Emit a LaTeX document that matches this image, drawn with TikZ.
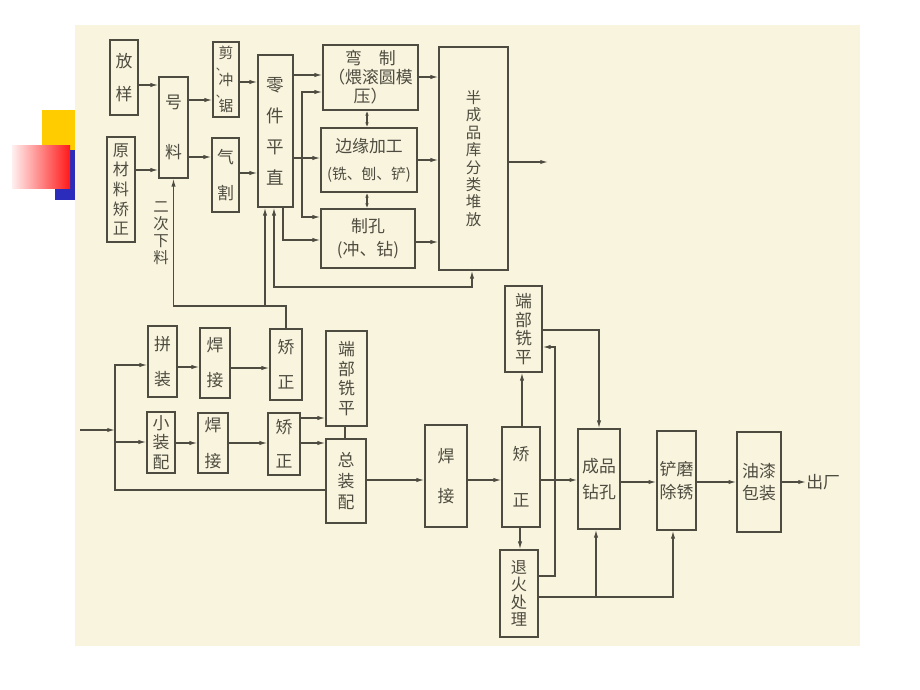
\documentclass[tikz,border=0pt]{standalone}
\usepackage{fontspec}
\newfontfamily\cjk{Noto Sans CJK SC}
\usetikzlibrary{arrows.meta}

\definecolor{page}{RGB}{248,244,222}
\definecolor{ink}{RGB}{78,76,64}
\definecolor{mkyellow}{RGB}{255,204,0}
\definecolor{mkblue}{RGB}{44,44,188}

%% small comma on its own row, at the left
\newcommand\dunhao{{\fontsize{8}{10}\selectfont\makebox[10.5pt][l]{\hspace{-2pt}、}}}

\tikzset{
  blk/.style 2 args={draw=ink, line width=1.1pt, inner sep=0pt, align=center, text=ink,
    minimum width=#1*0.025cm, minimum height=#2*0.025cm},
  lsp/.style 2 args={font=\cjk\fontsize{#1}{#2}\selectfont},
  ln/.style={draw=ink, line width=0.8pt},
  arr/.style={ln, -{Latex[length=5.5pt,width=3pt]}},
  both/.style={ln, {Latex[length=5.5pt,width=3pt]}-{Latex[length=5.5pt,width=3pt]}},
  dbl/.style={ln, {Latex[length=3.5pt,width=2.6pt]}-{Latex[length=3.5pt,width=2.6pt]}},
}

\begin{document}
\begin{tikzpicture}[x=0.025cm, y=-0.025cm]

%% page and slide marks
\fill[white] (0,0) rectangle (920,690);
\fill[mkyellow] (42,110) rectangle (75,153);
\fill[mkblue] (55,150) rectangle (75,200);
\shade[left color=red!6, right color=red!90!white] (12,145) rectangle (70,188);
\fill[page] (75,25) rectangle (860,646);

%% upper boxes
\node[blk={28}{75}, lsp={12}{23.5}] (fang) at (124,77.5) {放\\样};
\node[blk={28}{105}, lsp={11.5}{14}] (yuan) at (121,189.5) {原\\材\\料\\矫\\正};
\node[blk={29}{101}, lsp={12}{35.5}] (hao) at (173.5,127.5) {号\\料};
\node[blk={26}{75}, lsp={10.5}{10}] (jian) at (226,79.5) {剪\\[-1.5pt]\dunhao\\[0.5pt]冲\\[-1.5pt]\dunhao\\[0.5pt]锯};
\node[blk={27}{74}, lsp={12}{25}] (qi) at (225.5,175) {气\\割};
\node[blk={35}{152}, lsp={12.5}{22}] (ling) at (275.5,131) {零\\件\\平\\直};
\node[blk={95}{65}, lsp={12}{13.5}] (wan) at (370.5,77.5) {弯\quad 制\\（煨滚圆模\\压）};
\node[blk={96}{64}, lsp={12}{19}] (bian) at (369,160) {边缘加工\\{\fontsize{10.5}{19}\selectfont(铣、刨、铲)}};
\node[blk={94}{59}, lsp={12}{16}] (zhikong) at (368,238.5) {制孔\\(冲、钻)};
\node[blk={69}{223}, lsp={11}{12.4}] (ban) at (473.5,158.5) {半\\成\\品\\库\\分\\类\\堆\\放};
\node[text=ink, align=center, lsp={11}{12}] (second) at (161,233) {二\\次\\下\\料};

%% lower boxes
\node[blk={29}{71}, lsp={12}{25}] (pin) at (162.5,361.5) {拼\\装};
\node[blk={30}{70}, lsp={12}{25}] (hanA) at (215,363) {焊\\接};
\node[blk={32}{71}, lsp={12}{25}] (jiaoA) at (286,364.5) {矫\\正};
\node[blk={41}{95}, lsp={12}{14}] (duanA) at (346.5,378.5) {端\\部\\铣\\平};
\node[blk={28}{61}, lsp={12}{14}] (xiao) at (161,442.5) {小\\装\\配};
\node[blk={30}{60}, lsp={12}{25.5}] (hanB) at (213,443) {焊\\接};
\node[blk={32}{62}, lsp={12}{24}] (jiaoB) at (284,444) {矫\\正};
\node[blk={40}{84}, lsp={12}{15}] (zong) at (346,481) {总\\装\\配};
\node[blk={42}{102}, lsp={12}{28.5}] (hanC) at (446,476) {焊\\接};
\node[blk={38}{100}, lsp={12}{33}] (jiaoC) at (521,477) {矫\\正};
\node[blk={37}{86}, lsp={12}{13.3}] (duanB) at (523.5,329) {端\\部\\铣\\平};
\node[blk={38}{87}, lsp={11.5}{12.5}] (tui) at (519,593.5) {退\\火\\处\\理};
\node[blk={42}{100}, lsp={12}{18}] (cheng) at (599,479) {成品\\钻孔};
\node[blk={39}{99}, lsp={12}{16.5}] (chan) at (676.5,480.5) {铲磨\\除锈};
\node[blk={44}{100}, lsp={12}{16}] (you) at (759,482) {油漆\\包装};
\node[text=ink, inner sep=0pt, anchor=west, lsp={12}{14}] (chu) at (806,482) {出厂};

%% upper arrows
\draw[arr] (fang.east |- 0,85) -- (hao.west |- 0,85);
\draw[arr] (yuan.east |- 0,170) -- (hao.west |- 0,170);
\draw[arr] (hao.east |- 0,100) -- (jian.west |- 0,100);
\draw[arr] (hao.east |- 0,157) -- (qi.west |- 0,157);
\draw[arr] (jian.east |- 0,82) -- (ling.west |- 0,82);
\draw[arr] (qi.east |- 0,173) -- (ling.west |- 0,173);
\draw[arr] (ling.east |- 0,75) -- (wan.west |- 0,75);
\draw[arr] (ling.east |- 0,158) -- (bian.west |- 0,158);
\coordinate (fork) at (302,158);
\draw[arr] (fork) |- (wan.west |- 0,92);
\draw[arr] (fork) |- (zhikong.west |- 0,217);
\draw[arr] (ling.south -| 283,0) |- (zhikong.west |- 0,240);
\draw[arr] (wan.east |- 0,77) -- (ban.west |- 0,77);
\draw[arr] (bian.east |- 0,160) -- (ban.west |- 0,160);
\draw[arr] (zhikong.east |- 0,242) -- (ban.west |- 0,242);
\draw[dbl] (wan.south -| 367,0) -- (bian.north -| 367,0);
\draw[dbl] (bian.south -| 367,0) -- (zhikong.north -| 367,0);
\coordinate (out) at (548,162);
\draw[arr] (ban.east |- out) -- (out);
\draw[both] (ling.south -| 274,0) |- (472,287) -- (ban.south -| 472,0);

%% back lines
\draw[arr] (jiaoA.north) |- (hao.south |- 0,306) -- (hao.south);
\draw[arr] (265,306) -- (ling.south -| 265,0);

%% lower arrows
\coordinate (in) at (80,430);
\coordinate (bus) at (115,430);
\draw[arr] (in) -- (bus);
\draw[arr] (bus) |- (pin.west |- 0,365);
\draw[arr] (bus) |- (xiao.west |- 0,442);
\draw[ln] (bus) |- (zong.west |- 0,490);
\draw[arr] (pin.east |- 0,367) -- (hanA.west |- 0,367);
\draw[arr] (hanA.east |- 0,368) -- (jiaoA.west |- 0,368);
\draw[arr] (xiao.east |- 0,443) -- (hanB.west |- 0,443);
\draw[arr] (hanB.east |- 0,443) -- (jiaoB.west |- 0,443);
\draw[arr] (jiaoB.east |- 0,418) -- (duanA.west |- 0,418);
\draw[arr] (jiaoB.east |- 0,443) -- (zong.west |- 0,443);
\draw[ln] (duanA.south -| 345,0) -- (zong.north -| 345,0);
\draw[arr] (zong.east |- 0,480) -- (hanC.west |- 0,480);
\draw[arr] (hanC.east |- 0,480) -- (jiaoC.west |- 0,480);
\draw[arr] (jiaoC.east |- 0,480) -- (cheng.west |- 0,480);
\draw[arr] (cheng.east |- 0,482) -- (chan.west |- 0,482);
\draw[arr] (chan.east |- 0,482) -- (you.west |- 0,482);
\draw[arr] (you.east |- 0,482) -- (chu.west);
\draw[arr] (jiaoC.north -| 522,0) -- (duanB.south -| 522,0);
\draw[arr] (jiaoC.south -| 520,0) -- (tui.north -| 520,0);
\draw[arr] (tui.east |- 0,576) -| (555,347) -- (duanB.east |- 0,347);
\draw[arr] (duanB.east |- 0,330) -| (cheng.north);
\draw[arr] (tui.east |- 0,597) -| (chan.south -| 673,0);
\draw[arr] (596,597) -- (cheng.south -| 596,0);

\end{tikzpicture}
\end{document}
